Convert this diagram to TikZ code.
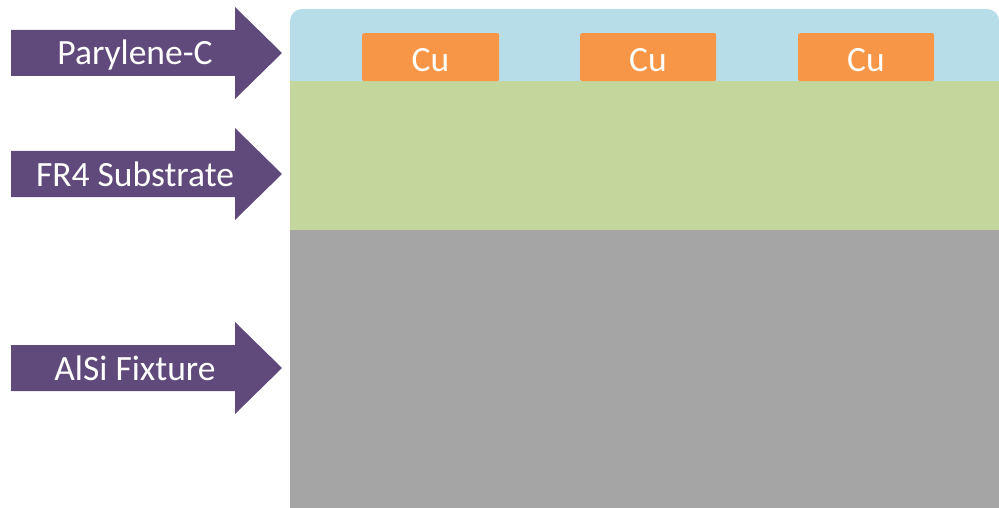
\documentclass[tikz,border=0pt]{standalone}
\usepackage{fontspec}
\setmainfont{Carlito}
\begin{document}
\begin{tikzpicture}[x=1pt,y=-1pt,
  cublock/.style={fill=cuorange, draw=none, rounded corners=1.5pt, inner sep=0pt},
  bigtext/.style={text=white, font=\fontsize{35.5}{42}\selectfont, inner sep=0pt, anchor=base},
  pointer/.style={fill=arrowpurple, draw=none}]
\definecolor{parylene}{HTML}{B7DDE8}
\definecolor{fr4}{HTML}{C3D69B}
\definecolor{alsi}{HTML}{A5A5A5}
\definecolor{cuorange}{HTML}{F79646}
\definecolor{arrowpurple}{HTML}{604A7B}
\useasboundingbox (0,0) rectangle (999,508);

% layer stack
\fill[parylene] (290,81) -- (290,21) arc[start angle=180,end angle=270,radius=12]
  -- (987,9) arc[start angle=270,end angle=360,radius=12] -- (999,81) -- cycle;
\fill[fr4] (290,81) rectangle (999,230);
\fill[alsi] (290,230) rectangle (999,508);

% copper traces
\foreach \name/\xa/\xb in {cua/362/499, cub/580/716, cuc/798/934}{
  \node[cublock, minimum width={\xb-\xa}, minimum height=48, anchor=north west]
    (\name) at (\xa,33) {};
  \node[bigtext] (\name-txt) at ({(\xa+\xb)/2},72) {Cu};
}

% labelled pointer arrows
\foreach \name/\yc/\txt in {pary/53/Parylene-C, fr/174/FR4 Substrate, al/368/AlSi Fixture}{
  \fill[pointer] (11,\yc-23) -- (235,\yc-23) -- (235,\yc-46) -- (282,\yc)
    -- (235,\yc+46) -- (235,\yc+23) -- (11,\yc+23) -- cycle;
  \node[bigtext] (\name) at (135,\yc+12) {\txt};
}
\end{tikzpicture}
\end{document}
